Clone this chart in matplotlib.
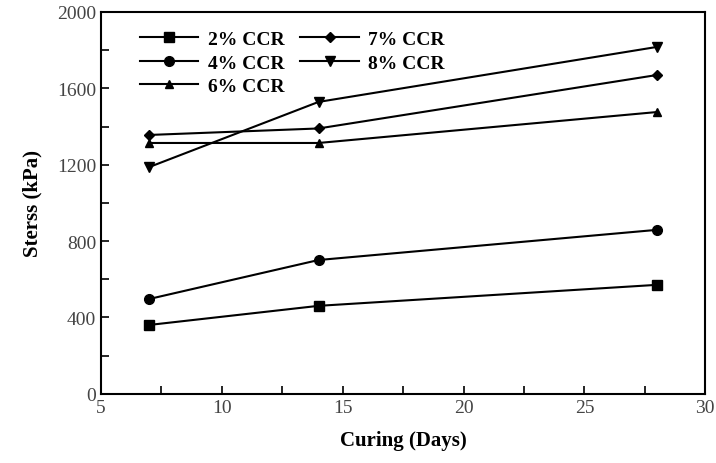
import matplotlib
matplotlib.use('Agg')
import matplotlib.pyplot as plt
from matplotlib.ticker import MultipleLocator

plt.rcParams['font.family'] = ['Liberation Serif', 'DejaVu Serif']

days = [7, 14, 28]
ccr2 = [361, 461, 571]
ccr4 = [497, 701, 859]
ccr6 = [1314, 1314, 1476]
ccr7 = [1356, 1390, 1670]
ccr8 = [1188, 1529, 1817]

fig = plt.figure(figsize=(7.16, 4.64), dpi=100)
ax = fig.add_axes([0.141, 0.149, 0.844, 0.823])

ax.plot(days, ccr2, '-s', color='black', lw=1.5, ms=7, label='2% CCR')
ax.plot(days, ccr4, '-o', color='black', lw=1.5, ms=7, label='4% CCR')
ax.plot(days, ccr6, '-^', color='black', lw=1.5, ms=6, label='6% CCR')
ax.plot(days, ccr7, '-D', color='black', lw=1.5, ms=5, label='7% CCR')
ax.plot(days, ccr8, '-v', color='black', lw=1.5, ms=7, label='8% CCR')

ax.set_xlim(5, 30)
ax.set_ylim(0, 2000)
ax.xaxis.set_major_locator(MultipleLocator(5))
ax.xaxis.set_minor_locator(MultipleLocator(2.5))
ax.yaxis.set_major_locator(MultipleLocator(400))
ax.yaxis.set_minor_locator(MultipleLocator(200))
ax.tick_params(which='both', direction='in', top=False, right=False, labelsize=14, labelcolor='#444444', width=1.2)
ax.tick_params(which='major', length=6)
ax.tick_params(which='minor', length=6)
for s in ax.spines.values():
    s.set_linewidth(1.5)

ax.set_xlabel('Curing (Days)', fontsize=15, fontweight='bold', labelpad=10)
ax.set_ylabel('Sterss (kPa)', fontsize=15, fontweight='bold', labelpad=10)

ax.legend(loc='upper left', ncol=2, frameon=False, prop={'weight': 'bold', 'size': 14},
          handlelength=3.0, handletextpad=0.5, columnspacing=0.8, labelspacing=0.3,
          borderaxespad=0.0, bbox_to_anchor=(0.052, 0.972))

fig.savefig('out.png', dpi=100)
